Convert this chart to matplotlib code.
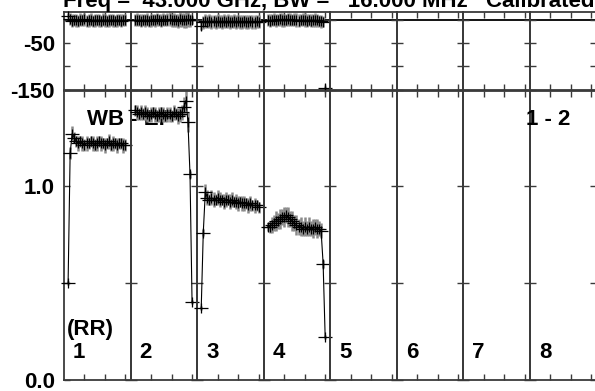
import numpy as np
import matplotlib
matplotlib.use("Agg")
import matplotlib.pyplot as plt
from matplotlib.path import Path

plt.rcParams['font.family'] = ['Liberation Sans', 'DejaVu Sans']
plt.rcParams['font.weight'] = 'bold'

# ---------------- data ----------------
channels = np.arange(2, 31)
if_labels = ['1', '2', '3', '4', '5', '6', '7', '8']
title_text = "Freq =  43.000 GHz, BW =   16.000 MHz   Calibrated"
pol_label = "(RR)"
source_label = "WB - EF"
baseline_label = "1 - 2"

amp_if1 = [0.50, 1.17, 1.27, 1.25, 1.23, 1.22, 1.23, 1.22, 1.21, 1.22, 1.22, 1.23, 1.22, 1.21, 1.22,
           1.23, 1.22, 1.22, 1.21, 1.22, 1.23, 1.21, 1.22, 1.22, 1.21, 1.22, 1.22, 1.21, 1.21]
amp_if2 = [1.39, 1.38, 1.37, 1.38, 1.37, 1.38, 1.37, 1.36, 1.37, 1.38, 1.37, 1.36, 1.37, 1.38, 1.37,
           1.36, 1.37, 1.37, 1.36, 1.38, 1.37, 1.36, 1.37, 1.38, 1.41, 1.44, 1.33, 1.06, 0.40]
amp_if3 = [0.37, 0.76, 0.97, 0.94, 0.93, 0.94, 0.93, 0.93, 0.94, 0.93, 0.93, 0.92, 0.93, 0.93, 0.92,
           0.93, 0.92, 0.92, 0.91, 0.92, 0.91, 0.91, 0.91, 0.90, 0.91, 0.90, 0.90, 0.90, 0.89]
amp_if4 = [0.79, 0.79, 0.80, 0.81, 0.82, 0.82, 0.83, 0.84, 0.84, 0.85, 0.84, 0.83, 0.82, 0.81, 0.80,
           0.79, 0.79, 0.78, 0.79, 0.78, 0.79, 0.78, 0.78, 0.79, 0.78, 0.78, 0.77, 0.60, 0.22]

amp_err_if1 = [0.01, 0.03, 0.04, 0.03, 0.03, 0.04, 0.03, 0.04, 0.03, 0.04, 0.03, 0.03, 0.04, 0.03, 0.04,
               0.03, 0.04, 0.03, 0.04, 0.03, 0.04, 0.03, 0.04, 0.03, 0.04, 0.03, 0.03, 0.04, 0.03]
amp_err_if2 = [0.03, 0.04, 0.03, 0.04, 0.03, 0.04, 0.04, 0.03, 0.04, 0.03, 0.04, 0.03, 0.04, 0.03, 0.04,
               0.03, 0.04, 0.04, 0.03, 0.04, 0.03, 0.04, 0.04, 0.04, 0.05, 0.05, 0.05, 0.02, 0.01]
amp_err_if3 = [0.01, 0.02, 0.04, 0.04, 0.03, 0.04, 0.04, 0.03, 0.04, 0.04, 0.03, 0.04, 0.04, 0.03, 0.04,
               0.04, 0.03, 0.04, 0.04, 0.03, 0.04, 0.04, 0.03, 0.04, 0.04, 0.03, 0.04, 0.03, 0.03]
amp_err_if4 = [0.02, 0.03, 0.04, 0.04, 0.05, 0.04, 0.05, 0.04, 0.05, 0.04, 0.05, 0.04, 0.05, 0.04, 0.05,
               0.04, 0.05, 0.04, 0.05, 0.04, 0.05, 0.04, 0.05, 0.04, 0.05, 0.04, 0.04, 0.02, 0.01]

phase_if1 = [10, 2, -1, 1, 0, -1, 1, 0, 2, -1, 0, 1, -1, 0, 1, 0, -1, 1, 0, -1, 0, 1, 0, -1, 0, 1, -1, 0, 0]
phase_if2 = [0, 1, 0, -1, 1, 0, 1, -1, 0, 1, 0, 2, 0, -1, 1, 0, 1, 2, 0, 1, 0, -1, 2, 1, 0, 1, 2, 0, 1]
phase_if3 = [-12, -4, -2, -3, -2, -3, -2, -3, -2, -3, -3, -2, -3, -2, -3, -3, -2, -3, -2, -3, -3, -2,
             -3, -3, -2, -3, -3, -2, -3]
phase_if4 = [0, -1, 0, 1, 0, 1, 2, 1, 0, 1, 2, 1, 0, 1, 0, -1, 0, 1, 0, -1, 0, -1, 0, 1, 0, -1, -2, -3, -146]

phase_err_if1 = [6, 13, 14, 13, 14, 13, 14, 13, 14, 13, 14, 14, 13, 14, 13, 14, 13, 14, 14, 13, 14, 13,
                 14, 13, 14, 13, 14, 13, 13]
phase_err_if2 = [13, 14, 13, 14, 13, 14, 14, 13, 14, 13, 14, 14, 13, 14, 14, 13, 14, 15, 14, 15, 14, 15,
                 16, 15, 16, 17, 16, 14, 8]
phase_err_if3 = [8, 14, 15, 14, 15, 15, 14, 15, 15, 14, 15, 15, 14, 15, 15, 14, 15, 15, 14, 15, 15, 14,
                 15, 15, 14, 15, 15, 14, 14]
phase_err_if4 = [13, 14, 13, 14, 14, 13, 14, 15, 14, 13, 14, 14, 13, 14, 15, 14, 13, 14, 15, 14, 13, 14,
                 14, 15, 14, 13, 14, 12, 4]

amp_data = [amp_if1, amp_if2, amp_if3, amp_if4]
amp_errs = [amp_err_if1, amp_err_if2, amp_err_if3, amp_err_if4]
phase_data = [phase_if1, phase_if2, phase_if3, phase_if4]
phase_errs = [phase_err_if1, phase_err_if2, phase_err_if3, phase_err_if4]

# ---------------- layout ----------------
W, H = 595, 391
fig = plt.figure(figsize=(W / 100, H / 100), dpi=100)
x0, pw = 64, 66.56
ph_top, ph_bot = 12, 89.5
am_top, am_bot = 91, 380
FS = 16
spine_col = '#3a3a3a'
grey = '#8a8a8a'

cross = Path([(-1, 0), (1, 0), (0, -0.7), (0, 0.7)],
             [Path.MOVETO, Path.LINETO, Path.MOVETO, Path.LINETO])

axes_amp = []
for k in range(len(if_labels)):
    left = (x0 + k * pw) / W
    axp = fig.add_axes([left, 1 - ph_bot / H, pw / W, (ph_bot - ph_top) / H])
    axa = fig.add_axes([left, 1 - am_bot / H, pw / W, (am_bot - am_top) / H])
    axes_amp.append(axa)
    for ax in (axp, axa):
        ax.patch.set_visible(False)
        ax.set_xlim(0, 32.47)
        ax.set_xticks([10, 20, 30])
        ax.tick_params(direction='in', top=True, bottom=True, left=True, right=True,
                       length=4.5, width=1.0, color=spine_col, labelbottom=False,
                       labelleft=(k == 0), labelsize=FS, pad=6.5, labelcolor='black')
        for s in ax.spines.values():
            s.set_color(spine_col)
            s.set_linewidth(1.3)
    axp.set_ylim(-150, 18)
    axp.set_yticks([-150, -100, -50, 0])
    axp.set_yticklabels(['-150', '', '-50', ''], fontweight='bold')
    axa.set_ylim(0, 1.49)
    axa.set_yticks([0, 0.5, 1.0])
    axa.set_yticklabels(['0.0', '', '1.0'], fontweight='bold')
    axp.axhline(0, color='black', lw=1.3, zorder=1)

    if k < len(amp_data):
        axa.errorbar(channels, amp_data[k], yerr=amp_errs[k], fmt='none', ecolor=grey,
                     elinewidth=1.8, capsize=0, zorder=2, clip_on=False)
        axa.plot(channels, amp_data[k], color='black', lw=0.8, zorder=3, clip_on=False)
        axa.plot(channels, amp_data[k], ls='none', marker=cross, ms=9.5, mec='black',
                 mew=0.9, zorder=4, clip_on=False)
        axp.errorbar(channels, phase_data[k], yerr=phase_errs[k], fmt='none', ecolor=grey,
                     elinewidth=1.8, capsize=0, zorder=2, clip_on=False)
        axp.plot(channels, phase_data[k], ls='none', marker=cross, ms=9.5, mec='black',
                 mew=0.9, zorder=4, clip_on=False)

    axa.text(9 / pw, (am_bot - 358) / (am_bot - am_top), if_labels[k], transform=axa.transAxes,
             ha='left', va='baseline', fontsize=FS, fontweight='bold', zorder=1)

axes_amp[0].text(3 / pw, (am_bot - 335) / (am_bot - am_top), pol_label,
                 transform=axes_amp[0].transAxes, ha='left', va='baseline',
                 fontsize=FS, fontweight='bold')
axes_amp[0].text((87 - x0) / pw, (am_bot - 125) / (am_bot - am_top), source_label,
                 transform=axes_amp[0].transAxes, ha='left', va='baseline',
                 fontsize=FS, fontweight='bold', clip_on=False, zorder=1)
fig.text(526 / W, 1 - 125 / H, baseline_label, ha='left', va='baseline',
         fontsize=FS, fontweight='bold')
fig.text(63 / W, 1 - 7.0 / H, title_text, ha='left', va='baseline',
         fontsize=FS, fontweight='bold')

fig.savefig('out.png', dpi=100)
